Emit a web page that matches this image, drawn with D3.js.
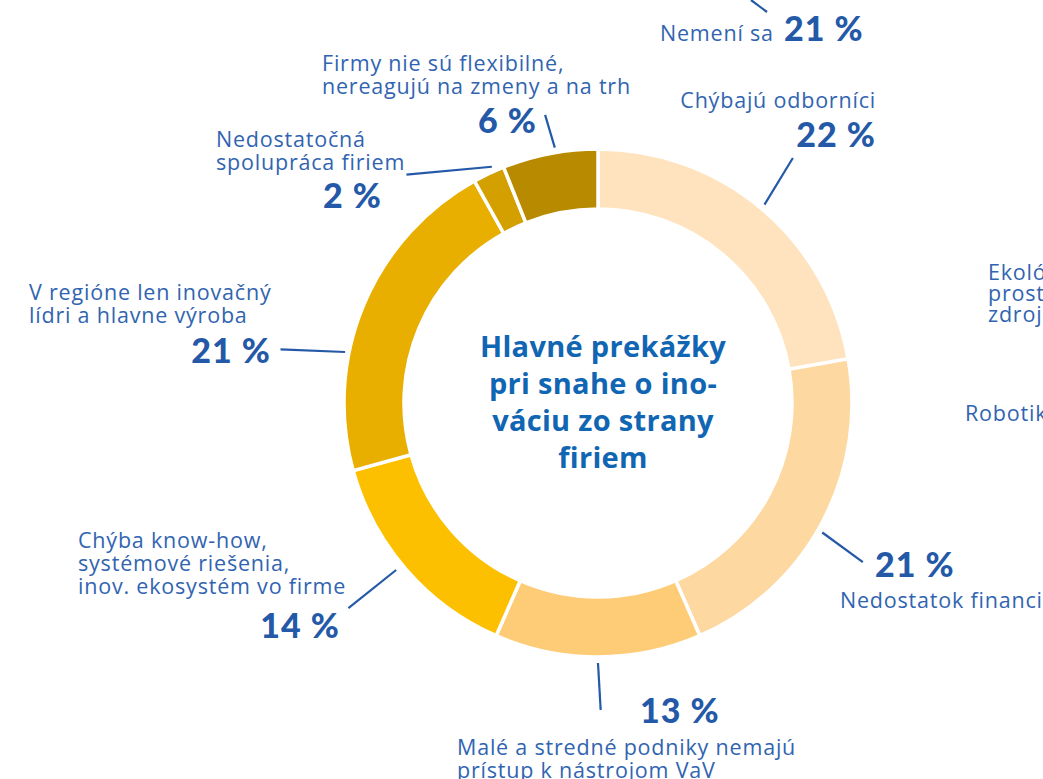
<html>
<head>
    <meta charset="utf-8"/>
    <script src="https://d3js.org/d3.v7.min.js"></script>
</head>
<style>
    body { margin: 0; background: #fff; overflow: hidden; }
    svg { display: block; }
    .lbl { font-family: "Open Sans", "Noto Sans", sans-serif; font-size: 21.5px; letter-spacing: 0.8px; fill: #3164b0; }
    .pct { font-family: Lato, "Noto Sans", sans-serif; font-size: 34px; font-weight: 900; fill: #2459a8; letter-spacing: 1px; }
    .ttl { font-family: "Open Sans", "Noto Sans", sans-serif; font-size: 29px; font-weight: 700; fill: #1166b3; letter-spacing: 0.3px; }
</style>
<body>
<svg class="main" width="1043" height="779"></svg>
</body>
<script>
    // data
    var categories = [
        ["Chýbajú odborníci"],
        ["Nedostatok financií"],
        ["Malé a stredné podniky nemajú", "prístup k nástrojom VaV"],
        ["Chýba know-how,", "systémové riešenia,", "inov. ekosystém vo firme"],
        ["V regióne len inovačný", "lídri a hlavne výroba"],
        ["Nedostatočná", "spolupráca firiem"],
        ["Firmy nie sú flexibilné,", "nereagujú na zmeny a na trh"]
    ]
    var values = [22, 21, 13, 14, 21, 2, 6]
    var colors = ["#fee3be", "#fdd8a0", "#fecc76", "#fdc000", "#e8ae00", "#d3a000", "#b78a00"]
    var titleLines = ["Hlavné prekážky", "pri snahe o ino-", "váciu zo strany", "firiem"]

    var cx = 598, cy = 403, rOut = 254, rIn = 194

    // label layout: label anchor, label x, first baseline, pct anchor/x/y, leader polar [angle, r] pairs
    var layout = [
        {la: "end", lx: 876, ly: 108, pa: "end", px: 876, py: 147, lead: [[40, 259], [38.5, 313]]},
        {la: "start", lx: 840, ly: 608, pa: "start", px: 875, py: 577, lead: [[120, 259], [121, 309]]},
        {la: "start", lx: 457, ly: 755, pa: "start", px: 640, py: 723, lead: [[180, 260], [179.5, 307]]},
        {la: "start", lx: 78, ly: 548, pa: "end", px: 340, py: 638, lead: [[230.4, 262], [230.6, 323]]},
        {la: "start", lx: 29, ly: 300, pa: "end", px: 271, py: 363, lead: [[281.4, 258], [279.6, 322]]},
        {la: "start", lx: 216, ly: 147, pa: "start", px: 323, py: 208, lead: [[335.8, 259], [320, 298]]},
        {la: "start", lx: 322, ly: 71, pa: "start", px: 478, py: 133, lead: [[350.4, 259], [349.6, 293]]}
    ]

    var svg = d3.select("svg.main")

    var pie = d3.pie().sort(null).value(function (d) { return d })
    var arc = d3.arc().innerRadius(rIn).outerRadius(rOut)

    var g = svg.append("g").attr("transform", "translate(" + cx + "," + cy + ")")

    g.selectAll("path.slice")
        .data(pie(values))
        .enter()
        .append("path")
        .attr("class", "slice")
        .attr("d", arc)
        .attr("fill", function (d, i) { return colors[i] })
        .attr("stroke", "#fff")
        .attr("stroke-width", 3.5)

    function polar(p) {
        var a = p[0] * Math.PI / 180
        return [Math.sin(a) * p[1], -Math.cos(a) * p[1]]
    }

    g.selectAll("line.lead")
        .data(layout)
        .enter()
        .append("line")
        .attr("class", "lead")
        .attr("x1", function (d) { return polar(d.lead[0])[0] })
        .attr("y1", function (d) { return polar(d.lead[0])[1] })
        .attr("x2", function (d) { return polar(d.lead[1])[0] })
        .attr("y2", function (d) { return polar(d.lead[1])[1] })
        .attr("stroke", "#2459a8")
        .attr("stroke-width", 2.2)

    layout.forEach(function (L, i) {
        var t = svg.append("text").attr("class", "lbl")
            .attr("text-anchor", L.la)
        categories[i].forEach(function (s, j) {
            t.append("tspan").attr("x", L.lx).attr("y", L.ly + j * 23).text(s)
        })
        svg.append("text").attr("class", "pct")
            .attr("text-anchor", L.pa)
            .attr("x", L.px).attr("y", L.py)
            .text(values[i] + " %")
    })

    // center title
    var tt = svg.append("text").attr("class", "ttl").attr("text-anchor", "middle")
    titleLines.forEach(function (s, j) {
        tt.append("tspan").attr("x", cx + 5).attr("y", 357 + j * 37).text(s)
    })

    // neighbouring charts, cut off by the frame
    svg.append("line").attr("x1", 751).attr("y1", 0).attr("x2", 767).attr("y2", 12)
        .attr("stroke", "#2459a8").attr("stroke-width", 2.2)
    svg.append("text").attr("class", "lbl").attr("x", 660).attr("y", 41).text("Nemení sa")
    svg.append("text").attr("class", "pct").attr("x", 784).attr("y", 41).text("21 %")
    var ek = svg.append("text").attr("class", "lbl")
    ;["Ekológia", "prostredie", "zdroje"].forEach(function (s, j) {
        ek.append("tspan").attr("x", 988).attr("y", 280 + j * 21).text(s)
    })
    svg.append("text").attr("class", "lbl").attr("x", 965).attr("y", 421).text("Robotika")
</script>
</html>
